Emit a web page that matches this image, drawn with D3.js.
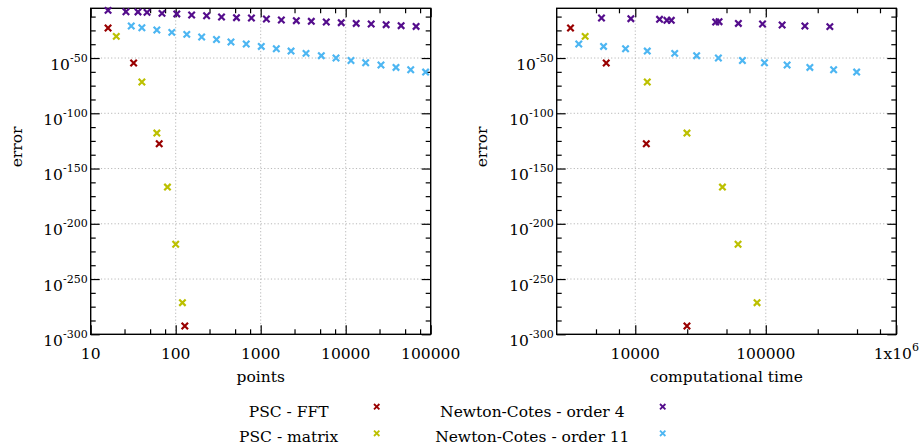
<!DOCTYPE html>
<html><head><meta charset="utf-8">
<script src="https://cdn.jsdelivr.net/npm/d3@7"></script>
<style>
body{margin:0;background:#fff}
svg{display:block}
text{font-family:"DejaVu Serif",serif;fill:#000}
</style>
</head><body><div id="chart"></div>
<script>
// ---------- data ----------
const seriesNames = ["PSC - FFT", "PSC - matrix", "Newton-Cotes - order 4", "Newton-Cotes - order 11"];
const seriesColors = ["#990000", "#bcc000", "#540d8c", "#4db6f2"];

// left panel: error vs points
const fftPoints = [16, 32, 64, 128];
const fftError = [1.6e-23, 3.2e-55, 2.5e-128, 3.2e-293];
const matrixPoints = [20, 40, 60, 80, 100, 120];
const matrixError = [4e-31, 2e-72, 1.3e-118, 1.6e-167, 3.2e-219, 4e-272];
const nc4Points = [16, 26, 36, 46, 69, 103, 154, 231, 346, 519, 778, 1167, 1750, 2626, 3939, 5908, 8862, 13293, 19940, 29910, 44865, 67300];
const nc4Error = [1.3e-7, 7.9e-9, 5e-9, 2e-9, 2.5e-10, 7.9e-11, 7.9e-12, 2e-12, 1.3e-13, 3.2e-14, 1.6e-14, 2e-15, 2.5e-16, 6.3e-17, 1.6e-17, 4e-18, 1e-18, 2e-19, 6.3e-20, 1.6e-20, 2e-21, 4e-22];
const nc11Points = [30, 40, 60, 90, 135, 202, 302, 447, 676, 1016, 1527, 2275, 3414, 5167, 7690, 11540, 17180, 26000, 39050, 58200, 87100];
const nc11Error = [1e-21, 2.5e-23, 2.5e-25, 1.6e-27, 2.5e-29, 1e-31, 6.3e-34, 3.2e-36, 5e-38, 3.2e-40, 2.5e-42, 2e-44, 1.6e-46, 1.3e-48, 1e-50, 6.3e-53, 5e-55, 5e-57, 3.2e-59, 2.5e-61, 2e-63];

// right panel: error vs computational time
const fftTime = [3190, 5990, 12150, 24890];
const fftTimeError = [1.6e-23, 3.2e-55, 2.5e-128, 3.2e-293];
const matrixTime = [4130, 12360, 24890, 46550, 61300, 85700];
const matrixTimeError = [4e-31, 2e-72, 1.3e-118, 1.6e-167, 3.2e-219, 4e-272];
const nc4Time = [5510, 9250, 15350, 17480, 18880, 41300, 43840, 61660, 94400, 133400, 199400, 309600];
const nc4TimeError = [1.6e-14, 4e-15, 1e-15, 1.3e-16, 1.3e-16, 4e-18, 7.9e-18, 2e-19, 6.3e-20, 7.9e-21, 1e-21, 2.5e-22];
const nc11Time = [3690, 5714, 8425, 12360, 20050, 29530, 43340, 66220, 97700, 145700, 217600, 331000, 496800];
const nc11TimeError = [5e-38, 3.2e-40, 2.5e-42, 2e-44, 1.6e-46, 1.3e-48, 1e-50, 6.3e-53, 5e-55, 5e-57, 3.2e-59, 2.5e-61, 2e-63];

// ticks
const yTickExponents = [-300, -250, -200, -150, -100, -50];
const yMinorExponents = [-287.5, -275, -262.5, -237.5, -225, -212.5, -187.5, -175, -162.5, -137.5, -125, -112.5, -87.5, -75, -62.5, -37.5, -25, -12.5];
const pointsTicks = [10, 100, 1000, 10000, 100000];
const pointsTickLabels = ["10", "100", "1000", "10000", "100000"];
const timeTicks = [10000, 100000, 1000000];
const timeTickLabels = [["10000", ""], ["100000", ""], ["1x10", "6"]];
const minorMultipliers = [2.5, 5, 7.5];
const yDomain = [1e-300, 1e-5];

// ---------- drawing ----------
const W = 921, H = 448;
const FS = 15.5, SUP = 11;
const svg = d3.select("#chart").append("svg").attr("width", W).attr("height", H);
svg.append("rect").attr("width", W).attr("height", H).attr("fill", "#fff");

const crossPath = s => `M${-s},${-s}L${s},${s}M${-s},${s}L${s},${-s}`;

function minorTicks(domain) {
  const out = [];
  for (let d = Math.pow(10, Math.floor(Math.log10(domain[0])) - 1); d < domain[1]; d *= 10)
    for (const m of minorMultipliers) {
      const v = d * m;
      if (v > domain[0] * 1.001 && v < domain[1] * 0.999) out.push(v);
    }
  return out;
}

function panel(cfg) {
  const x = d3.scaleLog().domain(cfg.xDomain).range(cfg.xRange);
  const y = d3.scaleLog().domain(yDomain).range([334.3, 8.3]);
  const g = svg.append("g");
  const [x0, x1] = cfg.xRange, [y0, y1] = y.range();

  // grid
  const grid = g.append("g").attr("stroke", "#b8b8b8").attr("stroke-width", 1).attr("stroke-dasharray", "1.2,2.2");
  cfg.xTicks.filter(v => v > cfg.xDomain[0] * 1.001 && v < cfg.xDomain[1] * 0.999).forEach(v => {
    grid.append("line").attr("x1", x(v)).attr("x2", x(v)).attr("y1", y0).attr("y2", y1);
  });
  yTickExponents.map(e => Math.pow(10, e)).filter(v => v > yDomain[0] * 1.001).forEach(v => {
    grid.append("line").attr("x1", x0).attr("x2", x1).attr("y1", y(v)).attr("y2", y(v));
  });

  // ticks (inward, mirrored)
  const xMinor = minorTicks(cfg.xDomain);
  const yMajor = yTickExponents.map(e => Math.pow(10, e));
  const yMinor = yMinorExponents.map(e => Math.pow(10, e));
  function addAxis(axisFn, scale, vals, size, transform) {
    const a = g.append("g").attr("transform", transform)
      .call(axisFn(scale).tickValues(vals).tickSize(-size).tickFormat(""));
    a.select(".domain").remove();
    a.selectAll("line").attr("stroke", "#000").attr("stroke-width", 1.2);
  }
  addAxis(d3.axisBottom, x, cfg.xTicks, 9, `translate(0,${y0})`);
  addAxis(d3.axisBottom, x, xMinor, 5, `translate(0,${y0})`);
  addAxis(d3.axisTop, x, cfg.xTicks, 9, `translate(0,${y1})`);
  addAxis(d3.axisTop, x, xMinor, 5, `translate(0,${y1})`);
  addAxis(d3.axisLeft, y, yMajor, 9, `translate(${x0},0)`);
  addAxis(d3.axisLeft, y, yMinor, 5, `translate(${x0},0)`);
  addAxis(d3.axisRight, y, yMajor, 9, `translate(${x1},0)`);
  addAxis(d3.axisRight, y, yMinor, 5, `translate(${x1},0)`);

  // frame
  g.append("rect").attr("x", x0).attr("y", y1).attr("width", x1 - x0).attr("height", y0 - y1)
    .attr("fill", "none").attr("stroke", "#000").attr("stroke-width", 1.4);

  // y tick labels
  yTickExponents.forEach(e => {
    const t = g.append("text").attr("x", x0 - 3).attr("y", y(Math.pow(10, e)) + 11.5)
      .attr("text-anchor", "end").attr("font-size", FS);
    t.append("tspan").text("10");
    t.append("tspan").attr("dy", -8).attr("font-size", SUP).text(String(e));
  });
  // x tick labels
  cfg.xTicks.forEach((v, i) => {
    const lab = cfg.xLabels[i];
    const t = g.append("text").attr("x", x(v)).attr("y", 358.5)
      .attr("text-anchor", "middle").attr("font-size", FS);
    if (Array.isArray(lab)) {
      t.append("tspan").text(lab[0]);
      if (lab[1]) t.append("tspan").attr("dy", -8).attr("font-size", SUP).text(lab[1]);
    } else t.text(lab);
  });
  // titles
  g.append("text").attr("x", (x0 + x1) / 2).attr("y", 381.7).attr("text-anchor", "middle")
    .attr("font-size", FS).text(cfg.xTitle);
  g.append("text").attr("transform", `translate(${cfg.yTitleX},147) rotate(-90)`)
    .attr("text-anchor", "middle").attr("font-size", FS).text("error");

  // points
  cfg.series.forEach((s, si) => {
    g.append("g").selectAll("path").data(s.xs.map((v, i) => [v, s.ys[i]])).join("path")
      .attr("transform", d => `translate(${x(d[0])},${y(d[1])})`)
      .attr("d", crossPath(3.2)).attr("fill", "none")
      .attr("stroke", seriesColors[si]).attr("stroke-width", 2.2);
  });
}

panel({
  xDomain: [10, 100000], xRange: [90.7, 430.7], xTicks: pointsTicks, xLabels: pointsTickLabels,
  xTitle: "points", yTitleX: 21.5,
  series: [
    {xs: fftPoints, ys: fftError}, {xs: matrixPoints, ys: matrixError},
    {xs: nc4Points, ys: nc4Error}, {xs: nc11Points, ys: nc11Error}
  ]
});
panel({
  xDomain: [2500, 1000000], xRange: [556.7, 896.3], xTicks: timeTicks, xLabels: timeTickLabels,
  xTitle: "computational time", yTitleX: 486.5,
  series: [
    {xs: fftTime, ys: fftTimeError}, {xs: matrixTime, ys: matrixTimeError},
    {xs: nc4Time, ys: nc4TimeError}, {xs: nc11Time, ys: nc11TimeError}
  ]
});

// legend
const legendPos = [
  {tx: 288.7, ty: 417.3, mx: 376.7, my: 406.7},
  {tx: 288.7, ty: 442.3, mx: 376.7, my: 433.3},
  {tx: 532.3, ty: 417.3, mx: 662.7, my: 406.7},
  {tx: 532.3, ty: 442.3, mx: 662.7, my: 433.3}
];
const leg = svg.append("g");
seriesNames.forEach((name, i) => {
  const p = legendPos[i];
  leg.append("text").attr("x", p.tx).attr("y", p.ty).attr("text-anchor", "middle")
    .attr("font-size", FS).text(name);
  leg.append("path").attr("transform", `translate(${p.mx},${p.my})`).attr("d", crossPath(2.7))
    .attr("fill", "none").attr("stroke", seriesColors[i]).attr("stroke-width", 1.8);
});
</script>
</body></html>
